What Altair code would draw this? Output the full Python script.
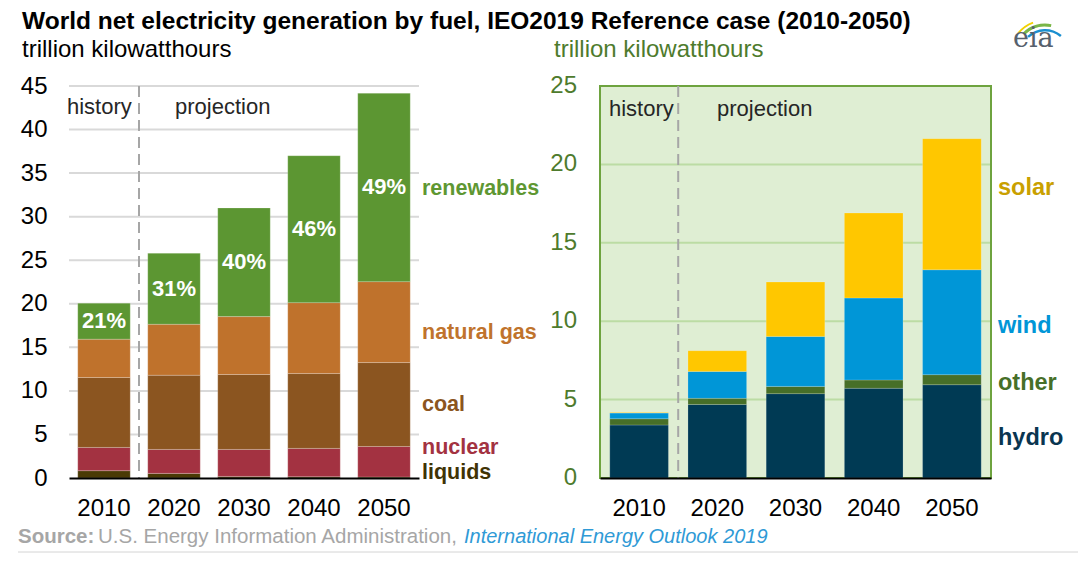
import altair as alt
import pandas as pd

FONT = "Liberation Sans"

years = ["2010", "2020", "2030", "2040", "2050"]

# ---- left panel: world net generation by fuel (trillion kWh) ----
fuels = ["liquids", "nuclear", "coal", "natural gas", "renewables"]
liquids = [0.84, 0.53, 0.18, 0.15, 0.12]
nuclear = [2.67, 2.75, 3.10, 3.25, 3.50]
coal = [8.03, 8.52, 8.60, 8.59, 9.63]
natural_gas = [4.40, 5.85, 6.65, 8.14, 9.29]
renewables = [4.13, 8.15, 12.47, 16.87, 21.63]
renew_share = ["21%", "31%", "40%", "46%", "49%"]
fuel_label_at = [0.57, 3.45, 8.4, 16.6, 33.2]
left_ticks = [0, 5, 10, 15, 20, 25, 30, 35, 40, 45]

# ---- right panel: renewables by source (trillion kWh) ----
sources = ["hydro", "other", "wind", "solar"]
hydro = [3.38, 4.69, 5.38, 5.72, 5.95]
other = [0.40, 0.39, 0.46, 0.53, 0.64]
wind = [0.36, 1.72, 3.19, 5.23, 6.69]
solar = [0.03, 1.32, 3.47, 5.42, 8.36]
source_label_at = [2.55, 6.06, 9.71, 18.5]
right_ticks = [0, 5, 10, 15, 20, 25]

# styles
fuel_colors = ["#4a3a05", "#a33241", "#8b5520", "#bf722c", "#5c9632"]
fuel_label_colors = ["#3f3305", "#a33241", "#8b5520", "#c0732c", "#5e9732"]
source_colors = ["#003a54", "#476f28", "#0096d7", "#ffc700"]
source_label_colors = ["#0a3550", "#476f28", "#0096d7", "#c9a000"]


def stack_df(cats, series):
    rows = []
    for i, yr in enumerate(years):
        base = 0.0
        for j, c in enumerate(cats):
            v = series[j][i]
            rows.append(dict(year=yr, cat=c, v=v, y0=base, y1=base + v, mid=base + v / 2))
            base += v
    return pd.DataFrame(rows)


dfL = stack_df(fuels, [liquids, nuclear, coal, natural_gas, renewables])
dfR = stack_df(sources, [hydro, other, wind, solar])

one = pd.DataFrame({"a": [0]})


def label(text, x, y, size, color="#000000", weight="normal", align="left",
          baseline="middle", style="normal", font=FONT):
    return alt.Chart(one).mark_text(
        text=text, align=align, baseline=baseline, fontSize=size, color=color,
        fontWeight=weight, fontStyle=style, font=font
    ).encode(x=alt.value(x), y=alt.value(y))


PW = 922
PH = 392

# ---------- left panel ----------
xsL = alt.Scale(domain=years, range=[0, 350], paddingInner=0.25, paddingOuter=0.125)
ysL = alt.Scale(domain=[0, 45], nice=False, zero=True)
xaxisL = alt.Axis(orient="bottom", title=None, labelFontSize=24, labelColor="#000000",
                  labelPadding=18, ticks=False, domainColor="#000000", domainWidth=2,
                  labelAngle=0, zindex=1, grid=False, labelFont=FONT)
yaxisL = alt.Axis(orient="left", title=None, values=left_ticks, labelFontSize=24,
                  labelPadding=22, ticks=False, domain=False, grid=False,
                  labelColor="#000000", labelFont=FONT, labelOverlap=False)

gridL = alt.Chart(pd.DataFrame({"t": left_ticks[1:]})).mark_rule(
    color="#d9d9d9", strokeWidth=2
).encode(x=alt.value(0), x2=alt.value(350), y=alt.Y("t:Q", scale=ysL, axis=yaxisL))

barsL = alt.Chart(dfL).mark_bar(stroke="#ffffff", strokeWidth=0.6, strokeOpacity=0.35).encode(
    x=alt.X("year:N", scale=xsL, axis=xaxisL),
    y=alt.Y("y0:Q", scale=ysL, axis=yaxisL),
    y2="y1:Q",
    color=alt.Color("cat:N", scale=alt.Scale(domain=fuels, range=fuel_colors), legend=None),
)

dfPct = dfL[dfL["cat"] == "renewables"].copy()
dfPct["share"] = renew_share
pctL = alt.Chart(dfPct).mark_text(color="white", fontSize=22, fontWeight="bold",
                                  font=FONT, baseline="middle").encode(
    x=alt.X("year:N", scale=xsL, axis=xaxisL),
    y=alt.Y("mid:Q", scale=ysL, axis=yaxisL),
    text="share:N",
)

catL = []
for c, at, col in zip(fuels, fuel_label_at, fuel_label_colors):
    catL.append(
        alt.Chart(pd.DataFrame({"cat": [c], "at": [at]})).mark_text(
            align="left", baseline="middle", fontSize=21.5, fontWeight="bold",
            color=col, font=FONT
        ).encode(x=alt.value(353), y=alt.Y("at:Q", scale=ysL, axis=yaxisL), text="cat:N")
    )

# divider sits in the gap before the first projection band
dividerL = alt.Chart(pd.DataFrame({"year": [years[1]]})).mark_rule(
    color="#a6a6a6", strokeWidth=2, strokeDash=[11, 6], xOffset=-70 * 0.125
).encode(
    x=alt.X("year:N", scale=xsL, axis=xaxisL, bandPosition=0),
    y=alt.value(0), y2=alt.value(PH),
)

left = alt.layer(
    gridL, barsL, pctL, *catL, dividerL,
    label("history", -2, 21, 22, "#262626"),
    label("projection", 106, 21, 22, "#262626"),
)

# ---------- right panel ----------
xsR = alt.Scale(domain=years, range=[531, 922], paddingInner=0.25, paddingOuter=0.125)
ysR = alt.Scale(domain=[0, 25], nice=False, zero=True)
xaxisR = alt.Axis(orient="bottom", title=None, labelFontSize=24, labelColor="#000000",
                  labelPadding=18, ticks=False, domainColor="#000000", domainWidth=2,
                  labelAngle=0, zindex=1, grid=False, labelFont=FONT)

bgR = alt.Chart(one).mark_rect(fill="#dfeed3", stroke="#6ea33f", strokeWidth=2).encode(
    x=alt.value(531), x2=alt.value(922), y=alt.value(0), y2=alt.value(PH)
)

gridR = alt.Chart(pd.DataFrame({"t": right_ticks[1:-1]})).mark_rule(
    color="#bcdca4", strokeWidth=2
).encode(x=alt.value(532), x2=alt.value(921), y=alt.Y("t:Q", scale=ysR, axis=None))

barsR = alt.Chart(dfR).mark_bar(stroke="#ffffff", strokeWidth=0.6, strokeOpacity=0.3).encode(
    x=alt.X("year:N", scale=xsR, axis=xaxisR),
    y=alt.Y("y0:Q", scale=ysR, axis=None),
    y2="y1:Q",
    color=alt.Color("cat:N", scale=alt.Scale(domain=sources, range=source_colors), legend=None),
)

ylabR = alt.Chart(pd.DataFrame({"t": right_ticks})).mark_text(
    align="right", baseline="middle", fontSize=24, color="#4e7b2d", font=FONT
).encode(x=alt.value(508), y=alt.Y("t:Q", scale=ysR, axis=None), text="t:Q")

catR = []
for c, at, col in zip(sources, source_label_at, source_label_colors):
    catR.append(
        alt.Chart(pd.DataFrame({"cat": [c], "at": [at]})).mark_text(
            align="left", baseline="middle", fontSize=23.5, fontWeight="bold",
            color=col, font=FONT
        ).encode(x=alt.value(929), y=alt.Y("at:Q", scale=ysR, axis=None), text="cat:N")
    )

dividerR = alt.Chart(pd.DataFrame({"year": [years[1]]})).mark_rule(
    color="#a6a6a6", strokeWidth=2, strokeDash=[11, 6], xOffset=-(391 / 5) * 0.125
).encode(
    x=alt.X("year:N", scale=xsR, axis=xaxisR, bandPosition=0),
    y=alt.value(0), y2=alt.value(PH),
)

right = alt.layer(
    bgR, gridR, barsR, ylabR, *catR, dividerR,
    label("history", 540, 23, 22, "#262626"),
    label("projection", 648, 23, 22, "#262626"),
)

# ---------- titles, source, logo ----------
title = label("World net electricity generation by fuel, IEO2019 Reference case (2010-2050)",
              -47, -57, 24.5, "#000000", weight="bold", baseline="alphabetic")
subL = label("trillion kilowatthours", -47, -29, 24, "#000000", baseline="alphabetic")
subR = label("trillion kilowatthours", 485, -29, 24, "#4e7b2d", baseline="alphabetic")

src1 = label("Source:", -51, 457, 20.5, "#a6a6a6", weight="bold", baseline="alphabetic")
src2 = label("U.S. Energy Information Administration,", 29, 457, 20.5, "#a6a6a6",
             baseline="alphabetic")
src3 = label("International Energy Outlook 2019", 395, 457, 20, "#2f9ad6",
             style="italic", baseline="alphabetic")
srcline = alt.Chart(one).mark_rule(color="#d4d4d4", strokeWidth=1).encode(
    x=alt.value(-51), x2=alt.value(1017), y=alt.value(466)
)

logo_text = label("eia", 944, -39, 27, "#56616d", baseline="alphabetic", font="DejaVu Serif")
arc_y = alt.Chart(one).mark_arc(color="#f2d200", theta=5.39, theta2=5.93,
                                radius=35.5, radius2=33.5).encode(x=alt.value(976), y=alt.value(-31))
arc_g = alt.Chart(one).mark_arc(color="#7ab648", theta=5.50, theta2=6.49,
                                radius=31.5, radius2=28.5).encode(x=alt.value(976), y=alt.value(-31))
arc_b = alt.Chart(one).mark_arc(color="#1a8fd0", theta=5.53, theta2=6.98,
                                radius=26.0, radius2=23.5).encode(x=alt.value(976), y=alt.value(-31))

chart = alt.layer(
    left, right, title, subL, subR, src1, src2, src3, srcline,
    arc_y, arc_g, arc_b, logo_text,
).resolve_scale(x="independent", y="independent", color="independent").properties(
    width=PW, height=PH,
    autosize=alt.AutoSizeParams(type="none"),
    padding={"left": 61, "top": 78, "right": 87, "bottom": 76},
    background="white",
).configure_view(stroke=None)

chart.save("out.html", embed_options={"renderer": "svg", "actions": False})
